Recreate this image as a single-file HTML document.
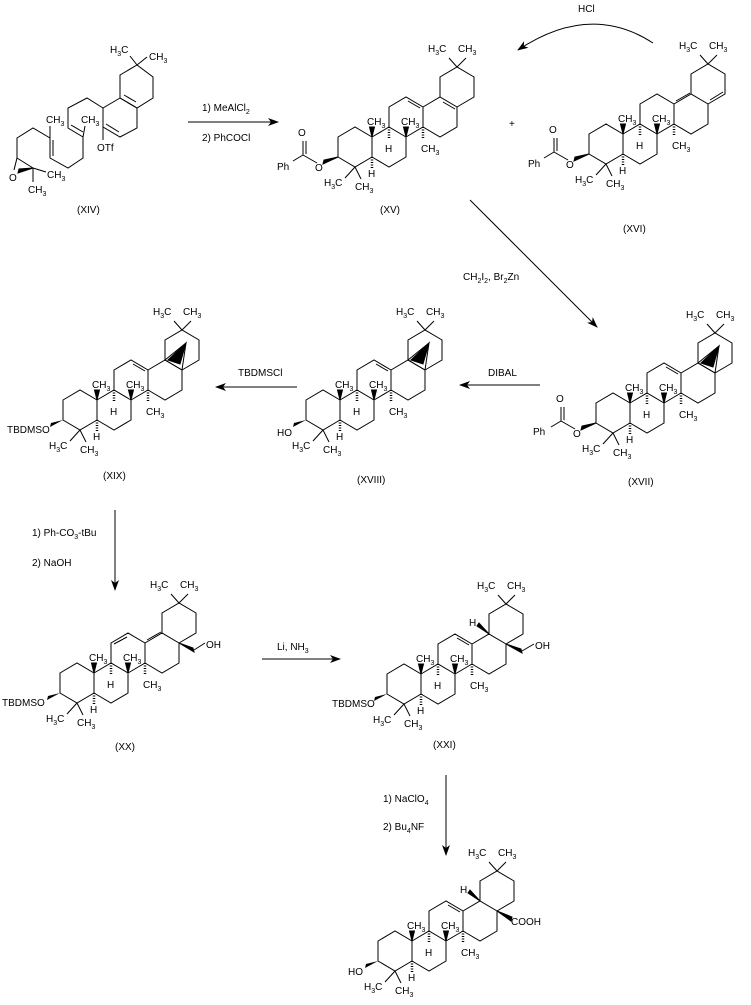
<!DOCTYPE html>
<html><head><meta charset="utf-8"><style>
html,body{margin:0;padding:0;background:#fff}
svg{display:block}
text{font-family:"Liberation Sans",Arial,sans-serif;font-size:10px;fill:#000}
tspan.s{font-size:7px}
</style></head><body>
<svg width="751" height="1005" viewBox="0 0 751 1005" xmlns="http://www.w3.org/2000/svg">
<defs>
<marker id="ah" markerWidth="12" markerHeight="10" refX="10" refY="4" orient="auto" markerUnits="userSpaceOnUse">
<path d="M0,0 L11,4 L0,8 L3,4 z" fill="#000"/>
</marker>
<g id="sk" fill="none" stroke="#000" stroke-width="1">
<polygon points="-17,-10 0,-20 17,-10 17,10 0,20 -17,10"/>
<polyline points="17,-10 34,-20 51,-10 51,10 34,20 17,10"/>
<polyline points="34,-20 34,-40 51,-50 68,-40 68,-20 51,-10"/>
<polyline points="68,-40 85,-50 102,-40 102,-20 85,-10 68,-20"/>
<polyline points="85,-50 85,-70 102,-80 119,-70 119,-50 102,-40"/>
<polygon points="17,-10 14.5,-20 19.5,-20" fill="#000"/>
<polygon points="51,-10 48.5,-20 53.5,-20" fill="#000"/>
<line x1="34" y1="-20" x2="34" y2="-8" stroke-dasharray="1,1.5" stroke-width="2.5"/>
<line x1="17" y1="10" x2="17" y2="21" stroke-dasharray="1,1.5" stroke-width="2.5"/>
<line x1="68" y1="-20" x2="68" y2="-9" stroke-dasharray="1,1.5" stroke-width="2.5"/>
<line x1="0" y1="20" x2="-10" y2="31"/>
<line x1="0" y1="20" x2="6" y2="32"/>
<line x1="102" y1="-80" x2="94" y2="-89"/>
<line x1="102" y1="-80" x2="111" y2="-89"/>
</g>
<g id="bz" fill="none" stroke="#000" stroke-width="1">
<polygon points="-17,10 -32,17 -31,13" fill="#000"/>
<line x1="-38" y1="16" x2="-52" y2="8"/>
<line x1="-52" y1="8" x2="-52" y2="-6"/>
<line x1="-49" y1="7" x2="-49" y2="-6"/>
<line x1="-52" y1="8" x2="-62" y2="14"/>
</g>
<g id="cp" fill="none" stroke="#000" stroke-width="1">
<polygon points="85,-50 106,-67 102,-40"/>
<polygon points="88,-50 106,-67 100,-46" fill="#000"/>
</g>
</defs>

<!-- XIV -->
<g fill="none" stroke="#000" stroke-width="1">
<polygon points="120,75 137,65 153,77 153,98 137,108 120,98"/>
<polyline points="120,98 137,108 137,128 120,137 103,127 103,108 120,98"/>
<line x1="124" y1="95" x2="136" y2="102"/>
<line x1="106" y1="124" x2="119" y2="132"/>
<polyline points="103,108 87,98 68,108 68,128 83,137 83,158 68,168 50,158 50,138 33,128 17,138 17,158 33,168"/>
<line x1="71" y1="125" x2="83" y2="132"/>
<line x1="53" y1="156" x2="53" y2="140"/>
<line x1="83" y1="137" x2="85" y2="126"/>
<line x1="50" y1="138" x2="50" y2="126"/>
<line x1="17" y1="158" x2="14" y2="170"/>
<polygon points="33,168 18,173 19,169" fill="#000"/>
<line x1="33" y1="168" x2="46" y2="172"/>
<line x1="33" y1="168" x2="33" y2="182"/>
<line x1="103" y1="127" x2="103" y2="140"/>
<line x1="137" y1="65" x2="130" y2="56"/>
<line x1="137" y1="65" x2="147" y2="57"/>
</g>
<text x="46" y="123">CH<tspan class="s" dy="3">3</tspan></text>
<text x="81" y="123">CH<tspan class="s" dy="3">3</tspan></text>
<text x="9" y="181">O</text>
<text x="47" y="178">CH<tspan class="s" dy="3">3</tspan></text>
<text x="28" y="193">CH<tspan class="s" dy="3">3</tspan></text>
<text x="97" y="151">OTf</text>
<text x="110" y="53">H<tspan class="s" dy="3">3</tspan><tspan dy="-3">C</tspan></text>
<text x="149" y="60">CH<tspan class="s" dy="3">3</tspan></text>
<text x="77" y="213">(XIV)</text>

<!-- arrows -->
<g stroke="#000" stroke-width="1" fill="none">
<line x1="188" y1="122" x2="278" y2="122" marker-end="url(#ah)"/>
<path d="M653,43 Q590,2 518,50" marker-end="url(#ah)"/>
<line x1="470" y1="200" x2="597" y2="327" marker-end="url(#ah)"/>
<line x1="540" y1="385" x2="460" y2="385" marker-end="url(#ah)"/>
<line x1="297" y1="387" x2="216" y2="387" marker-end="url(#ah)"/>
<line x1="115" y1="510" x2="115" y2="590" marker-end="url(#ah)"/>
<line x1="262" y1="659" x2="340" y2="659" marker-end="url(#ah)"/>
<line x1="446" y1="775" x2="446" y2="855" marker-end="url(#ah)"/>
</g>
<text x="202" y="111">1) MeAlCl<tspan class="s" dy="3">2</tspan></text>
<text x="202" y="141">2) PhCOCl</text>
<text x="578" y="12">HCl</text>
<text x="509" y="127">+</text>
<text x="463" y="280">CH<tspan class="s" dy="3">2</tspan><tspan dy="-3">I</tspan><tspan class="s" dy="3">2</tspan><tspan dy="-3">, Br</tspan><tspan class="s" dy="3">2</tspan><tspan dy="-3">Zn</tspan></text>
<text x="488" y="376">DIBAL</text>
<text x="238" y="376">TBDMSCl</text>
<text x="32" y="536">1) Ph-CO<tspan class="s" dy="3">3</tspan><tspan dy="-3">-tBu</tspan></text>
<text x="32" y="566">2) NaOH</text>
<text x="277" y="650">Li, NH<tspan class="s" dy="3">3</tspan></text>
<text x="383" y="802">1) NaClO<tspan class="s" dy="3">4</tspan></text>
<text x="383" y="830">2) Bu<tspan class="s" dy="3">4</tspan><tspan dy="-3">NF</tspan></text>

<!-- XV -->
<g transform="translate(355,147)">
<use href="#sk"/><use href="#bz"/>
<g stroke="#000" fill="none"><line x1="53" y1="-46" x2="65" y2="-39"/><line x1="88" y1="-45" x2="100" y2="-38"/></g>
<text x="-78" y="23">Ph</text><text x="-57" y="-11">O</text><text x="-40" y="24">O</text>
<text x="12" y="-22">CH<tspan class="s" dy="3">3</tspan></text><text x="46" y="-22">CH<tspan class="s" dy="3">3</tspan></text>
<text x="30" y="5">H</text><text x="13" y="30">H</text><text x="66" y="5">CH<tspan class="s" dy="3">3</tspan></text>
<text x="-31" y="39">H<tspan class="s" dy="3">3</tspan><tspan dy="-3">C</tspan></text><text x="0" y="43">CH<tspan class="s" dy="3">3</tspan></text>
<text x="73" y="-95">H<tspan class="s" dy="3">3</tspan><tspan dy="-3">C</tspan></text><text x="103" y="-95">CH<tspan class="s" dy="3">3</tspan></text>
</g>
<text x="380" y="213">(XV)</text>

<!-- XVI -->
<g transform="translate(606,144)">
<use href="#sk"/><use href="#bz"/>
<g stroke="#000" fill="none"><line x1="70" y1="-43" x2="84" y2="-51"/><line x1="104" y1="-44" x2="117" y2="-52"/></g>
<text x="-78" y="23">Ph</text><text x="-57" y="-11">O</text><text x="-40" y="24">O</text>
<text x="12" y="-22">CH<tspan class="s" dy="3">3</tspan></text><text x="46" y="-22">CH<tspan class="s" dy="3">3</tspan></text>
<text x="30" y="5">H</text><text x="13" y="30">H</text><text x="66" y="5">CH<tspan class="s" dy="3">3</tspan></text>
<text x="-31" y="39">H<tspan class="s" dy="3">3</tspan><tspan dy="-3">C</tspan></text><text x="0" y="43">CH<tspan class="s" dy="3">3</tspan></text>
<text x="73" y="-95">H<tspan class="s" dy="3">3</tspan><tspan dy="-3">C</tspan></text><text x="103" y="-95">CH<tspan class="s" dy="3">3</tspan></text>
</g>
<text x="623" y="232">(XVI)</text>

<!-- XVII -->
<g transform="translate(613,413)">
<use href="#sk"/><use href="#bz"/><use href="#cp"/>
<g stroke="#000" fill="none"><line x1="53" y1="-46" x2="65" y2="-39"/></g>
<text x="-80" y="22">Ph</text><text x="-57" y="-11">O</text><text x="-40" y="24">O</text>
<text x="12" y="-22">CH<tspan class="s" dy="3">3</tspan></text><text x="46" y="-22">CH<tspan class="s" dy="3">3</tspan></text>
<text x="30" y="5">H</text><text x="13" y="30">H</text><text x="66" y="5">CH<tspan class="s" dy="3">3</tspan></text>
<text x="-31" y="39">H<tspan class="s" dy="3">3</tspan><tspan dy="-3">C</tspan></text><text x="0" y="43">CH<tspan class="s" dy="3">3</tspan></text>
<text x="73" y="-95">H<tspan class="s" dy="3">3</tspan><tspan dy="-3">C</tspan></text><text x="103" y="-95">CH<tspan class="s" dy="3">3</tspan></text>
</g>
<text x="628" y="485">(XVII)</text>

<!-- XVIII -->
<g transform="translate(323,410)">
<use href="#sk"/><use href="#cp"/>
<polygon points="-17,10 -30,17 -29,13" fill="#000"/>
<g stroke="#000" fill="none"><line x1="53" y1="-46" x2="65" y2="-39"/></g>
<text x="-46" y="26">HO</text>
<text x="12" y="-22">CH<tspan class="s" dy="3">3</tspan></text><text x="46" y="-22">CH<tspan class="s" dy="3">3</tspan></text>
<text x="30" y="5">H</text><text x="13" y="30">H</text><text x="66" y="5">CH<tspan class="s" dy="3">3</tspan></text>
<text x="-31" y="39">H<tspan class="s" dy="3">3</tspan><tspan dy="-3">C</tspan></text><text x="0" y="43">CH<tspan class="s" dy="3">3</tspan></text>
<text x="73" y="-95">H<tspan class="s" dy="3">3</tspan><tspan dy="-3">C</tspan></text><text x="103" y="-95">CH<tspan class="s" dy="3">3</tspan></text>
</g>
<text x="357" y="483">(XVIII)</text>

<!-- XIX -->
<g transform="translate(80,410)">
<use href="#sk"/><use href="#cp"/>
<polygon points="-17,10 -30,17 -29,13" fill="#000"/>
<g stroke="#000" fill="none"><line x1="53" y1="-46" x2="65" y2="-39"/></g>
<text x="-73" y="23">TBDMSO</text>
<text x="12" y="-22">CH<tspan class="s" dy="3">3</tspan></text><text x="46" y="-22">CH<tspan class="s" dy="3">3</tspan></text>
<text x="30" y="5">H</text><text x="13" y="30">H</text><text x="66" y="5">CH<tspan class="s" dy="3">3</tspan></text>
<text x="-31" y="39">H<tspan class="s" dy="3">3</tspan><tspan dy="-3">C</tspan></text><text x="0" y="43">CH<tspan class="s" dy="3">3</tspan></text>
<text x="73" y="-95">H<tspan class="s" dy="3">3</tspan><tspan dy="-3">C</tspan></text><text x="103" y="-95">CH<tspan class="s" dy="3">3</tspan></text>
</g>
<text x="103" y="479">(XIX)</text>

<!-- XX -->
<g transform="translate(77,683)">
<use href="#sk"/>
<polygon points="-17,10 -30,17 -29,13" fill="#000"/>
<g stroke="#000" fill="none"><line x1="37" y1="-39" x2="50" y2="-46"/><line x1="70" y1="-43" x2="84" y2="-51"/>
<polygon points="102,-40 117,-31 116,-35" fill="#000"/><line x1="117" y1="-33" x2="128" y2="-40"/></g>
<text x="129" y="-35">OH</text>
<text x="-75" y="23">TBDMSO</text>
<text x="12" y="-22">CH<tspan class="s" dy="3">3</tspan></text><text x="46" y="-22">CH<tspan class="s" dy="3">3</tspan></text>
<text x="30" y="5">H</text><text x="13" y="30">H</text><text x="66" y="5">CH<tspan class="s" dy="3">3</tspan></text>
<text x="-31" y="39">H<tspan class="s" dy="3">3</tspan><tspan dy="-3">C</tspan></text><text x="0" y="43">CH<tspan class="s" dy="3">3</tspan></text>
<text x="73" y="-95">H<tspan class="s" dy="3">3</tspan><tspan dy="-3">C</tspan></text><text x="103" y="-95">CH<tspan class="s" dy="3">3</tspan></text>
</g>
<text x="115" y="750">(XX)</text>

<!-- XXI -->
<g transform="translate(404,684)">
<use href="#sk"/>
<polygon points="-17,10 -30,17 -29,13" fill="#000"/>
<g stroke="#000" fill="none"><line x1="53" y1="-46" x2="65" y2="-39"/>
<polygon points="85,-50 73,-58 75,-61" fill="#000"/>
<polygon points="102,-40 118,-31 117,-35" fill="#000"/><line x1="118" y1="-33" x2="130" y2="-40"/></g>
<text x="131" y="-35">OH</text>
<text x="65" y="-58">H</text>
<text x="-72" y="23">TBDMSO</text>
<text x="12" y="-22">CH<tspan class="s" dy="3">3</tspan></text><text x="46" y="-22">CH<tspan class="s" dy="3">3</tspan></text>
<text x="30" y="5">H</text><text x="13" y="30">H</text><text x="66" y="5">CH<tspan class="s" dy="3">3</tspan></text>
<text x="-31" y="39">H<tspan class="s" dy="3">3</tspan><tspan dy="-3">C</tspan></text><text x="0" y="43">CH<tspan class="s" dy="3">3</tspan></text>
<text x="73" y="-95">H<tspan class="s" dy="3">3</tspan><tspan dy="-3">C</tspan></text><text x="103" y="-95">CH<tspan class="s" dy="3">3</tspan></text>
</g>
<text x="433" y="748">(XXI)</text>

<!-- Final -->
<g transform="translate(395,951)">
<use href="#sk"/>
<polygon points="-17,10 -30,17 -29,13" fill="#000"/>
<g stroke="#000" fill="none"><line x1="53" y1="-46" x2="65" y2="-39"/>
<polygon points="85,-50 73,-58 75,-61" fill="#000"/>
<polygon points="102,-40 116,-30 117,-34" fill="#000"/></g>
<text x="116" y="-26">COOH</text>
<text x="65" y="-58">H</text>
<text x="-47" y="24">HO</text>
<text x="12" y="-22">CH<tspan class="s" dy="3">3</tspan></text><text x="46" y="-22">CH<tspan class="s" dy="3">3</tspan></text>
<text x="30" y="5">H</text><text x="13" y="30">H</text><text x="66" y="5">CH<tspan class="s" dy="3">3</tspan></text>
<text x="-31" y="39">H<tspan class="s" dy="3">3</tspan><tspan dy="-3">C</tspan></text><text x="0" y="43">CH<tspan class="s" dy="3">3</tspan></text>
<text x="73" y="-95">H<tspan class="s" dy="3">3</tspan><tspan dy="-3">C</tspan></text><text x="103" y="-95">CH<tspan class="s" dy="3">3</tspan></text>
</g>
</svg>
</body></html>
